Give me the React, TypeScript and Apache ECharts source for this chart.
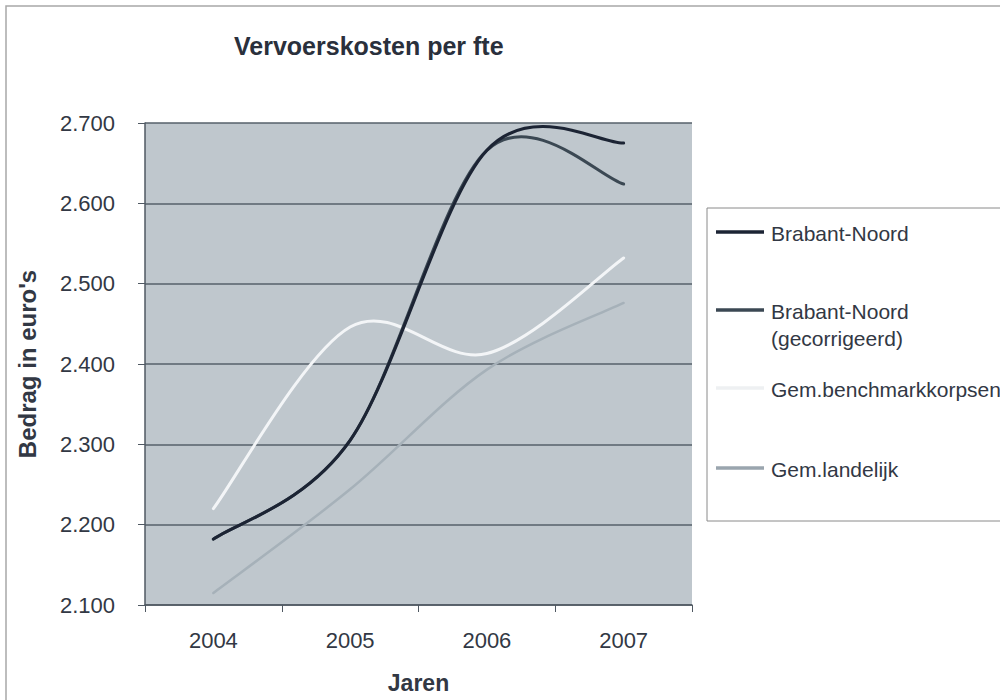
import React, { useEffect, useRef } from "react";
import * as echarts from "echarts";

const years = ["2004", "2005", "2006", "2007"];
const brabantNoord = [2182, 2305, 2666, 2675];
const brabantNoordGecorrigeerd = [2182, 2305, 2666, 2624];
const gemBenchmarkkorpsen = [2220, 2446, 2413, 2532];
const gemLandelijk = [2115, 2244, 2393, 2476];

const seriesNames = [
  "Brabant-Noord",
  "Brabant-Noord\n(gecorrigeerd)",
  "Gem.benchmarkkorpsen",
  "Gem.landelijk",
];
const seriesColors = ["#1c2434", "#3b4853", "#f3f5f7", "#a6b1b9"];
const legendColors = ["#1c2434", "#3b4853", "#eef0f2", "#9aa5ae"];
const legendYs = [232, 310, 388, 468];

const yMin = 2100;
const yMax = 2700;
const yStep = 100;

function smoothPath(pts: number[][]): string {
  // Catmull-Rom style Bezier (as spreadsheet smoothed lines)
  const n = pts.length;
  let d = `M${pts[0][0]},${pts[0][1]}`;
  for (let i = 0; i < n - 1; i++) {
    const p0 = pts[Math.max(i - 1, 0)];
    const p1 = pts[i];
    const p2 = pts[i + 1];
    const p3 = pts[Math.min(i + 2, n - 1)];
    const c1x = p1[0] + (p2[0] - p0[0]) / 6;
    const c1y = p1[1] + (p2[1] - p0[1]) / 6;
    const c2x = p2[0] - (p3[0] - p1[0]) / 6;
    const c2y = p2[1] - (p3[1] - p1[1]) / 6;
    d += ` C${c1x},${c1y} ${c2x},${c2y} ${p2[0]},${p2[1]}`;
  }
  return d;
}

export default function App() {
  const ref = useRef<HTMLDivElement>(null);
  useEffect(() => {
    if (!ref.current) return;
    const chart = echarts.init(ref.current, undefined, { renderer: "svg" });
    const font = "'Liberation Sans', Arial, sans-serif";
    const textColor = "#323844";
    const dataSets = [brabantNoord, brabantNoordGecorrigeerd, gemBenchmarkkorpsen, gemLandelijk];

    const legendGraphics: any[] = [
      {
        type: "rect",
        shape: { x: 707, y: 208, width: 320, height: 313 },
        style: { fill: "#ffffff", stroke: "#8a8a8a", lineWidth: 1 },
        z: 1,
      },
    ];
    seriesNames.forEach((name, i) => {
      legendGraphics.push({
        type: "line",
        shape: { x1: 716, y1: legendYs[i], x2: 764, y2: legendYs[i] },
        style: { stroke: legendColors[i], lineWidth: 3.5 },
        z: 2,
      });
      legendGraphics.push({
        type: "text",
        x: 771,
        y: legendYs[i] - 12,
        style: {
          text: name,
          font: `21px ${font}`,
          fill: textColor,
          lineHeight: 27,
          textVerticalAlign: "top",
        },
        z: 2,
      });
    });

    chart.setOption({
      animation: false,
      backgroundColor: "#ffffff",
      title: {
        text: "Vervoerskosten per fte",
        left: 229,
        top: 28,
        textStyle: {
          fontFamily: font,
          fontSize: 25,
          fontWeight: "bold",
          color: "#2a303c",
        },
      },
      grid: { left: 145, right: 308, top: 123, bottom: 95, show: true, backgroundColor: "#bfc7cd", borderWidth: 0 },
      xAxis: {
        type: "category",
        data: years,
        boundaryGap: true,
        name: "Jaren",
        nameLocation: "middle",
        nameGap: 66,
        nameTextStyle: { fontFamily: font, fontSize: 23, fontWeight: "bold", color: textColor },
        axisLine: { show: true, lineStyle: { color: "#4f5862", width: 1.5 } },
        axisTick: { show: true, length: 7, inside: false, alignWithLabel: false, lineStyle: { color: "#4f5862" } },
        axisLabel: { fontFamily: font, fontSize: 22, color: textColor, margin: 24 },
        splitLine: { show: false },
      },
      yAxis: {
        type: "value",
        min: yMin,
        max: yMax,
        interval: yStep,
        name: "Bedrag in euro's",
        nameLocation: "middle",
        nameRotate: 90,
        nameGap: 106,
        nameTextStyle: { fontFamily: font, fontSize: 24, fontWeight: "bold", color: textColor },
        axisLine: { show: true, lineStyle: { color: "#4f5862", width: 1.5 } },
        axisTick: { show: true, length: 7, inside: false, lineStyle: { color: "#4f5862" } },
        axisLabel: {
          fontFamily: font,
          fontSize: 22,
          color: textColor,
          margin: 30,
          formatter: (v: number) => (v / 1000).toFixed(3),
        },
        splitLine: { show: true, lineStyle: { color: "#56606a", width: 1.5 } },
      },
      series: seriesNames.map((name, i) => {
        const values = dataSets[i];
        return {
          name,
          type: "custom",
          coordinateSystem: "cartesian2d",
          data: values.map((v, j) => [j, v]),
          encode: { x: 0, y: 1 },
          z: 10 - i,
          renderItem: (params: any, api: any) => {
            if (params.dataIndex !== 0) return null;
            const pts = values.map((v, j) => api.coord([j, v]));
            return {
              type: "path",
              shape: { pathData: smoothPath(pts) },
              style: {
                fill: "none",
                stroke: seriesColors[i],
                lineWidth: i === 3 ? 2.5 : 3,
                lineCap: "round",
                lineJoin: "round",
              },
            };
          },
        };
      }),
      graphic: [
        {
          type: "rect",
          shape: { x: 6, y: 6, width: 1200, height: 1200 },
          style: { fill: "none", stroke: "#a8a8a8", lineWidth: 1.5 },
          silent: true,
          z: 0,
        },
        ...legendGraphics,
      ],
    });
    return () => chart.dispose();
  }, []);
  return <div ref={ref} style={{ position: "absolute", left: 0, top: 0, width: 1000, height: 700 }} />;
}
